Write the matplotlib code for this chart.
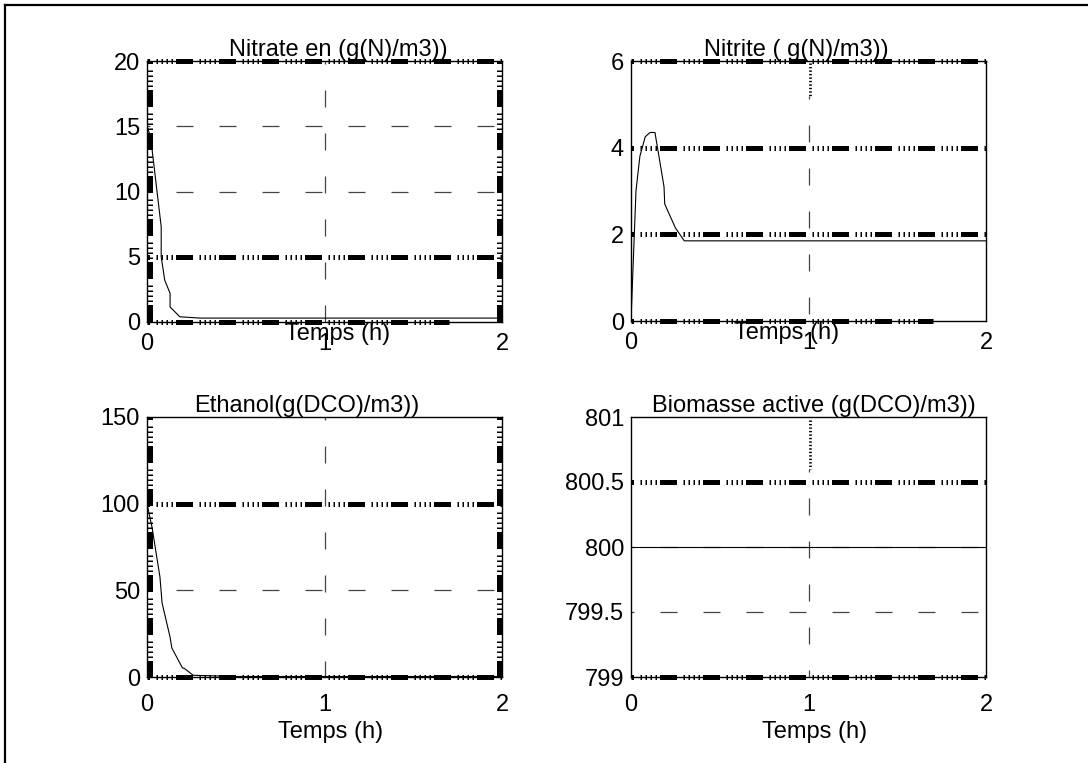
import matplotlib
matplotlib.use("Agg")
import matplotlib.pyplot as plt
from matplotlib.lines import Line2D

plt.rcParams['font.family'] = ['Liberation Sans', 'DejaVu Sans']
plt.rcParams['font.size'] = 17
plt.rcParams['lines.scale_dashes'] = False

# ---- simulation results (time in hours) ----
t_nitrate = [0.0, 0.02, 0.08, 0.08, 0.10, 0.13, 0.13, 0.185, 0.30, 1.0, 2.0]
nitrate = [15.0, 14.2, 7.3, 5.0, 3.2, 2.2, 1.15, 0.4, 0.3, 0.3, 0.3]

t_nitrite = [0.0, 0.028, 0.05, 0.08, 0.107, 0.135, 0.186, 0.19, 0.25, 0.30, 1.0, 2.0]
nitrite = [0.0, 3.0, 3.8, 4.25, 4.35, 4.35, 3.1, 2.7, 2.15, 1.85, 1.85, 1.85]

t_ethanol = [0.0, 0.028, 0.073, 0.085, 0.13, 0.14, 0.20, 0.21, 0.26, 0.5, 2.0]
ethanol = [100.0, 86.5, 57.7, 42.7, 23.0, 16.7, 5.2, 5.0, 1.0, 0.3, 0.3]

t_biomass = [0.0, 2.0]
biomass = [800.0, 800.0]

x_ticks = [0, 1, 2]
nitrate_ticks = [0, 5, 10, 15, 20]
nitrite_ticks = [0, 2, 4, 6]
ethanol_ticks = [0, 50, 100, 150]
biomass_ticks = [799, 799.5, 800, 800.5, 801]
biomass_labels = ["799", "799.5", "800", "800.5", "801"]

titles = ["Nitrate en (g(N)/m3))", "Nitrite ( g(N)/m3))",
          "Ethanol(g(DCO)/m3))", "Biomasse active (g(DCO)/m3))"]
xlabel = "Temps (h)"

PX = 72.0 / 100.0  # points per pixel at dpi 100

fig = plt.figure(figsize=(10.88, 7.63), dpi=100)
fig.patch.set_facecolor("white")

# page frame (left and top edges)
fig.add_artist(Line2D([5 / 1088, 5 / 1088], [0, 1 - 5 / 763], transform=fig.transFigure,
                      color="black", lw=1.6))
fig.add_artist(Line2D([5 / 1088, 1], [1 - 5 / 763, 1 - 5 / 763], transform=fig.transFigure,
                      color="black", lw=1.6))

W, H = 1088, 763
def axes_at(left, top, right, bottom):
    return fig.add_axes([left / W, 1 - bottom / H, (right - left) / W, (bottom - top) / H])

ax_no3 = axes_at(147, 61, 502, 322)
ax_no2 = axes_at(631, 61, 986, 321)
ax_eth = axes_at(147, 417, 502, 677)
ax_bio = axes_at(631, 417, 986, 677)

dash_grid = (14 * PX, (17 * PX, 26 * PX))
heavy_pat = (34 * PX, tuple(v * PX for v in
             (1.5, 3.5, 1.5, 3.5, 1.5, 3.5, 1.5, 3.0, 17, 6.5)))


def setup(ax, yticks, ylim, ylabels=None):
    ax.set_xlim(0, 2)
    ax.set_ylim(*ylim)
    ax.set_xticks(x_ticks)
    ax.set_yticks(yticks)
    if ylabels is not None:
        ax.set_yticklabels(ylabels)
    ax.tick_params(direction="in", length=0, pad=5)
    for s in ax.spines.values():
        s.set_linewidth(1.0)
        s.set_color("black")


def grid_h(ax, y):
    ax.plot([0, 2], [y, y], color="#444444", lw=0.9, linestyle=dash_grid, zorder=1)


def grid_v(ax, x, y0, y1):
    ax.plot([x, x], [y1, y0], color="#444444", lw=0.9, linestyle=dash_grid, zorder=1)


def heavy_h(ax, y, x0=0, x1=2):
    ax.plot([x0, x1], [y, y], color="black", lw=3.6, linestyle=heavy_pat,
            solid_capstyle="butt", dash_capstyle="butt", clip_on=False, zorder=2)


def heavy_v(ax, x, y0, y1):
    ax.plot([x, x], [y1, y0], color="black", lw=3.6, linestyle=heavy_pat,
            solid_capstyle="butt", dash_capstyle="butt", clip_on=False, zorder=2)


def curve(ax, t, v):
    ax.plot(t, v, color="black", lw=0.8, zorder=3)


# Nitrate
setup(ax_no3, nitrate_ticks, (0, 20))
for y in (10, 15):
    grid_h(ax_no3, y)
grid_v(ax_no3, 1, 0, 20)
heavy_h(ax_no3, 20)
heavy_h(ax_no3, 5)
heavy_h(ax_no3, 0, 0, 1.7)
heavy_v(ax_no3, 0.015, 0, 20)
heavy_v(ax_no3, 1.985, 0, 20)
curve(ax_no3, t_nitrate, nitrate)

# Nitrite
setup(ax_no2, nitrite_ticks, (0, 6))
grid_v(ax_no2, 1, 0, 5.2)
heavy_h(ax_no2, 6)
heavy_h(ax_no2, 4)
heavy_h(ax_no2, 2)
heavy_h(ax_no2, 0, 0, 1.7)
ax_no2.plot([1.01, 1.01], [5.95, 5.2], color="black", lw=2.0,
            linestyle=(0, (1.0, 1.5)), zorder=2)
curve(ax_no2, t_nitrite, nitrite)

# Ethanol
setup(ax_eth, ethanol_ticks, (0, 150))
grid_h(ax_eth, 50)
grid_v(ax_eth, 1, 0, 150)
heavy_h(ax_eth, 100)
heavy_h(ax_eth, 0)
heavy_v(ax_eth, 0.015, 0, 150)
heavy_v(ax_eth, 1.985, 0, 150)
curve(ax_eth, t_ethanol, ethanol)

# Active biomass
setup(ax_bio, biomass_ticks, (799, 801), biomass_labels)
grid_h(ax_bio, 799.5)
grid_h(ax_bio, 800)
grid_v(ax_bio, 1, 799, 800.6)
heavy_h(ax_bio, 800.5)
heavy_h(ax_bio, 799)
ax_bio.plot([1.01, 1.01], [800.98, 800.6], color="black", lw=2.0,
            linestyle=(0, (1.0, 1.5)), zorder=2)
curve(ax_bio, t_biomass, biomass)

# titles
title_x = [0.539, 0.467, 0.45, 0.516]
for ax, txt, tx in zip([ax_no3, ax_no2, ax_eth, ax_bio], titles, title_x):
    ax.set_title(txt, x=tx, pad=3, fontsize=17)

# x tick label spacing and axis labels
for ax in (ax_no3, ax_no2):
    ax.tick_params(axis="x", pad=8)
for ax in (ax_eth, ax_bio):
    ax.tick_params(axis="x", pad=12)

ax_no3.text(0.537, -0.004, xlabel, transform=ax_no3.transAxes, ha="center", va="top", fontsize=17)
ax_no2.text(0.437, -0.004, xlabel, transform=ax_no2.transAxes, ha="center", va="top", fontsize=17)
ax_eth.text(0.516, -0.168, xlabel, transform=ax_eth.transAxes, ha="center", va="top", fontsize=17)
ax_bio.text(0.518, -0.168, xlabel, transform=ax_bio.transAxes, ha="center", va="top", fontsize=17)

fig.savefig("out.png", dpi=100, facecolor="white")
